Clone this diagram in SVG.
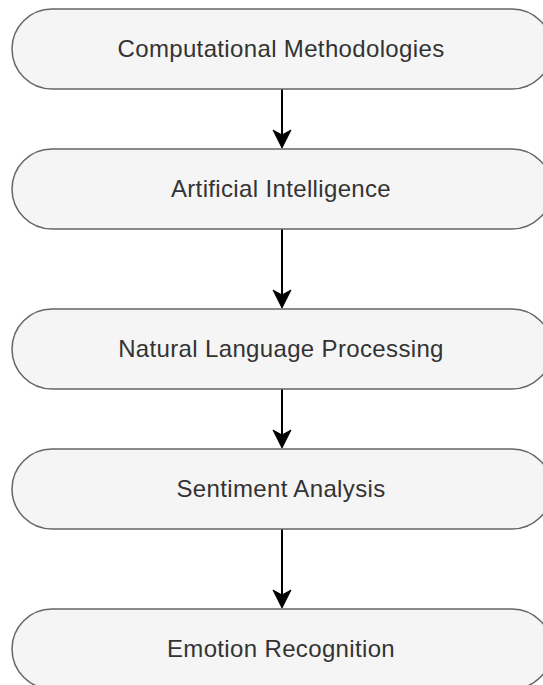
<svg xmlns="http://www.w3.org/2000/svg" width="543" height="685" viewBox="0 0 543 685">
<defs>
<style>
.n{fill:#f5f5f5;stroke:#666666;stroke-width:1.5}
.t{font-family:"Liberation Sans",Arial,sans-serif;font-size:24px;letter-spacing:0.35px;fill:#333333;text-anchor:middle}
.e{stroke:#000000;stroke-width:2;fill:none}
.h{fill:#000000;stroke:#000000;stroke-width:1}
</style>
</defs>
<rect width="543" height="685" fill="#ffffff"/>
<g id="edges">
<line class="e" x1="282" y1="89" x2="282" y2="138"/>
<path class="h" d="M282,148 L273,130 L282,135 L291,130 Z"/>
<line class="e" x1="282" y1="229" x2="282" y2="298"/>
<path class="h" d="M282,308 L273,290 L282,295 L291,290 Z"/>
<line class="e" x1="282" y1="389" x2="282" y2="438"/>
<path class="h" d="M282,448 L273,430 L282,435 L291,430 Z"/>
<line class="e" x1="282" y1="529" x2="282" y2="598"/>
<path class="h" d="M282,608 L273,590 L282,595 L291,590 Z"/>
</g>
<g id="node1"><rect class="n" x="12" y="9" width="540" height="80" rx="40" ry="40"/><text class="t" x="281" y="57">Computational Methodologies</text></g>
<g id="node2"><rect class="n" x="12" y="149" width="540" height="80" rx="40" ry="40"/><text class="t" x="281" y="197">Artificial Intelligence</text></g>
<g id="node3"><rect class="n" x="12" y="309" width="540" height="80" rx="40" ry="40"/><text class="t" x="281" y="357">Natural Language Processing</text></g>
<g id="node4"><rect class="n" x="12" y="449" width="540" height="80" rx="40" ry="40"/><text class="t" x="281" y="497">Sentiment Analysis</text></g>
<g id="node5"><rect class="n" x="12" y="609" width="540" height="80" rx="40" ry="40"/><text class="t" x="281" y="657">Emotion Recognition</text></g>
</svg>
